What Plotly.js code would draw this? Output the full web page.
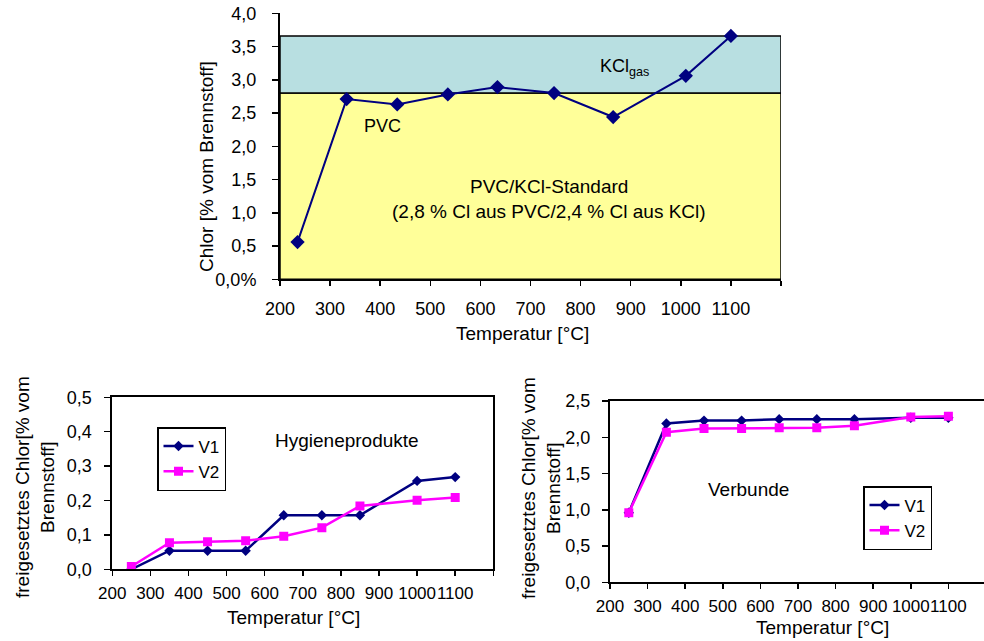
<!DOCTYPE html>
<html>
<head>
<meta charset="utf-8">
<script src="https://cdn.plot.ly/plotly-3.0.1.min.js"></script>
<style>html,body{margin:0;padding:0;background:#fff;}#chart{width:984px;height:641px;}</style>
</head>
<body>
<div id="chart"></div>
<script>
// ---- data ----
const topTemps = [235, 333, 434, 535, 634, 747, 865, 1010, 1100];
const topChlor = [0.56, 2.71, 2.63, 2.78, 2.89, 2.80, 2.44, 3.06, 3.66];
const bandPVC = [0, 2.8];
const bandKCl = [2.8, 3.66];

const botTemps = [250, 350, 450, 550, 650, 750, 850, 1000, 1100];
const hygV1 = [0.0, 0.054, 0.054, 0.054, 0.157, 0.157, 0.157, 0.257, 0.268];
const hygV2 = [0.008, 0.077, 0.080, 0.083, 0.096, 0.121, 0.184, 0.201, 0.209];
const verV1 = [0.96, 2.19, 2.23, 2.23, 2.25, 2.25, 2.25, 2.27, 2.27];
const verV2 = [0.96, 2.07, 2.12, 2.12, 2.13, 2.13, 2.16, 2.28, 2.29];

const xTickVals = [200, 300, 400, 500, 600, 700, 800, 900, 1000, 1100];
const xTickText = ['200', '300', '400', '500', '600', '700', '800', '900', '1000', '1100'];
const topYVals = [0, 0.5, 1, 1.5, 2, 2.5, 3, 3.5, 4];
const topYText = ['0,0%', '0,5', '1,0', '1,5', '2,0', '2,5', '3,0', '3,5', '4,0'];
const hygYVals = [0, 0.1, 0.2, 0.3, 0.4, 0.5];
const hygYText = ['0,0', '0,1', '0,2', '0,3', '0,4', '0,5'];
const verYVals = [0, 0.5, 1, 1.5, 2, 2.5];
const verYText = ['0,0', '0,5', '1,0', '1,5', '2,0', '2,5'];

// ---- styles ----
const FONT = 'Liberation Sans, Arial, sans-serif';
const NAVY = '#000080';
const MAGENTA = '#FF00FF';
const W = 984, H = 641;
const px = v => v / W;
const py = v => 1 - v / H;

const traces = [
  {x: topTemps, y: topChlor, xaxis: 'x', yaxis: 'y', mode: 'lines+markers', showlegend: false,
   line: {color: NAVY, width: 2}, marker: {symbol: 'diamond', size: 11, color: NAVY}},
  {x: botTemps, y: hygV1, xaxis: 'x2', yaxis: 'y2', name: 'V1', legend: 'legend', mode: 'lines+markers',
   line: {color: NAVY, width: 2.5}, marker: {symbol: 'diamond', size: 8, color: NAVY}},
  {x: botTemps, y: hygV2, xaxis: 'x2', yaxis: 'y2', name: 'V2', legend: 'legend', mode: 'lines+markers',
   line: {color: MAGENTA, width: 2.5}, marker: {symbol: 'square', size: 9, color: MAGENTA}},
  {x: botTemps, y: verV1, xaxis: 'x3', yaxis: 'y3', name: 'V1', legend: 'legend2', mode: 'lines+markers',
   line: {color: NAVY, width: 2.5}, marker: {symbol: 'diamond', size: 8, color: NAVY}},
  {x: botTemps, y: verV2, xaxis: 'x3', yaxis: 'y3', name: 'V2', legend: 'legend2', mode: 'lines+markers',
   line: {color: MAGENTA, width: 2.5}, marker: {symbol: 'square', size: 9, color: MAGENTA}}
];

const tf = s => ({family: FONT, size: s, color: '#000'});
function xAx(domain, range, anchor, mirror, standoff, fs) {
  return {domain: domain, range: range, anchor: anchor, tickmode: 'array', tickvals: xTickVals, ticktext: xTickText,
    tickangle: 0, ticks: 'outside', ticklen: 5, tickwidth: 1.5, tickcolor: '#000', showline: true, linecolor: '#000', linewidth: 2,
    minor: {tick0: 200, dtick: 100, ticks: 'outside', ticklen: 5, tickwidth: 1.5, tickcolor: '#000', showgrid: false},
    mirror: mirror, showgrid: false, zeroline: false, tickfont: tf(fs), ticklabelstandoff: standoff, fixedrange: true};
}
function yAx(domain, range, anchor, vals, text, mirror, standoff, fs) {
  return {domain: domain, range: range, anchor: anchor, tickmode: 'array', tickvals: vals, ticktext: text,
    ticks: 'outside', ticklen: 6, tickwidth: 1.5, tickcolor: '#000', showline: true, linecolor: '#000', linewidth: 2,
    mirror: mirror, showgrid: false, zeroline: false, tickfont: tf(fs), ticklabelstandoff: standoff, fixedrange: true};
}

function ann(text, x, y, size, angle) {
  return {text: text, x: px(x), y: py(y), xref: 'paper', yref: 'paper', showarrow: false,
    xanchor: 'center', yanchor: 'middle', font: tf(size), textangle: angle || 0};
}

const layout = {
  width: W, height: H,
  margin: {l: 0, r: 0, t: 0, b: 0},
  paper_bgcolor: '#fff', plot_bgcolor: 'rgba(0,0,0,0)',
  font: {family: FONT, size: 18, color: '#000'},
  xaxis: xAx([px(280), px(781)], [200, 1200], 'y', false, 7, 18),
  yaxis: yAx([py(279.3), py(13.3)], [0, 4], 'x', topYVals, topYText, false, 12, 18),
  xaxis2: xAx([px(112.3), px(493.3)], [200, 1200], 'y2', true, 2, 17),
  yaxis2: yAx([py(569.3), py(397.3)], [0, 0.5], 'x2', hygYVals, hygYText, true, 9, 18),
  xaxis3: xAx([px(610), 1], [200, 1194.7], 'y3', true, 2, 17),
  yaxis3: yAx([py(582.3), py(401)], [0, 2.5], 'x3', verYVals, verYText, false, 8, 18),
  shapes: [
    {type: 'rect', xref: 'x', yref: 'y', x0: 200, x1: 1200, y0: bandPVC[0], y1: bandPVC[1],
     fillcolor: '#FFFF99', line: {color: '#000', width: 1.5}, layer: 'below'},
    {type: 'rect', xref: 'x', yref: 'y', x0: 200, x1: 1200, y0: bandKCl[0], y1: bandKCl[1],
     fillcolor: '#B8DFE1', line: {color: '#000', width: 1.5}, layer: 'below'}
  ],
  legend: {x: px(157), y: py(427), xanchor: 'left', yanchor: 'top', bgcolor: '#fff', bordercolor: '#000', borderwidth: 1.5,
    font: tf(17), itemwidth: 30, tracegroupgap: 0},
  legend2: {x: px(863), y: py(486), xanchor: 'left', yanchor: 'top', bgcolor: '#fff', bordercolor: '#000', borderwidth: 1.5,
    font: tf(17), itemwidth: 30, tracegroupgap: 0},
  annotations: [
    ann('PVC', 382, 126, 18),
    ann('KCl<sub>gas</sub>', 624, 68, 18),
    ann('PVC/KCl-Standard', 549, 187, 19),
    ann('(2,8 % Cl aus PVC/2,4 % Cl aus KCl)', 549, 211, 19),
    ann('Chlor [% vom Brennstoff]', 206, 167, 19, -90),
    ann('Temperatur [°C]', 522, 333, 19),
    ann('Hygieneprodukte', 347, 440, 19),
    ann('freigesetztes Chlor[% vom<br>Brennstoff]', 35, 487, 19, -90),
    ann('Temperatur [°C]', 293, 617, 19),
    ann('Verbunde', 748, 489, 19),
    ann('freigesetztes Chlor[% vom<br>Brennstoff]', 541, 488, 19, -90),
    ann('Temperatur [°C]', 822, 627, 19)
  ]
};

Plotly.newPlot('chart', traces, layout, {staticPlot: true, displayModeBar: false});
</script>
</body>
</html>
